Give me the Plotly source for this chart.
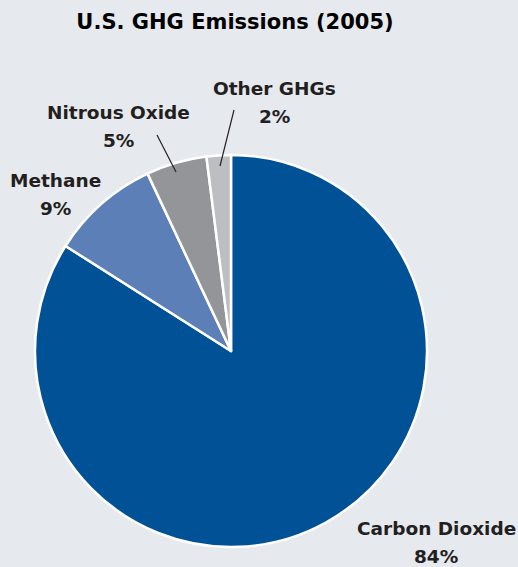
import plotly.graph_objects as go

categories = ["Carbon Dioxide", "Methane", "Nitrous Oxide", "Other GHGs"]
values = [84, 9, 5, 2]
colors = ["#005196", "#5b7fb6", "#939598", "#bcbec1"]

W, H = 518, 567
bg = "#e6e9ee"
font_family = "DejaVu Sans, sans-serif"

fig = go.Figure(go.Pie(
    labels=categories,
    values=values,
    sort=False,
    direction="clockwise",
    rotation=0,
    marker=dict(colors=colors, line=dict(color="white", width=2.5)),
    textinfo="none",
    hoverinfo="label+percent",
    showlegend=False,
    domain=dict(x=[35 / W, 427 / W], y=[(H - 547) / H, (H - 155) / H]),
))

# label positions (pixel centres: x, name line y, percent line y)
label_pos = {
    "Carbon Dioxide": (436, 528, 556),
    "Methane": (55, 181, 208),
    "Nitrous Oxide": (118, 113, 140),
    "Other GHGs": (274, 89, 117),
}
annotations = []
for cat, v in zip(categories, values):
    x, y1, y2 = label_pos[cat]
    for txt, yy in ((cat, y1), (f"{v}%", y2)):
        annotations.append(dict(
            x=x / W, y=1 - yy / H, xref="paper", yref="paper",
            text=f"<b>{txt}</b>",
            showarrow=False, align="center",
            font=dict(family=font_family, size=18.5, color="#231f20"),
            xanchor="center", yanchor="middle",
        ))

# leader lines
leaders = [((157, 135), (176, 172)), ((234, 110), (220, 166))]
shapes = []
for (x0, y0), (x1, y1) in leaders:
    shapes.append(dict(type="line", xref="paper", yref="paper",
                       x0=x0 / W, y0=1 - y0 / H, x1=x1 / W, y1=1 - y1 / H,
                       line=dict(color="#231f20", width=1.2)))

fig.update_layout(
    width=W, height=H,
    margin=dict(l=0, r=0, t=0, b=0),
    paper_bgcolor=bg, plot_bgcolor=bg,
    title=dict(text="<b>U.S. GHG Emissions (2005)</b>", x=235 / W, xanchor="center",
               y=1 - 22 / H, yanchor="middle",
               font=dict(family=font_family, size=21, color="#000000")),
    annotations=annotations,
    shapes=shapes,
)

fig.write_html("out.html")
